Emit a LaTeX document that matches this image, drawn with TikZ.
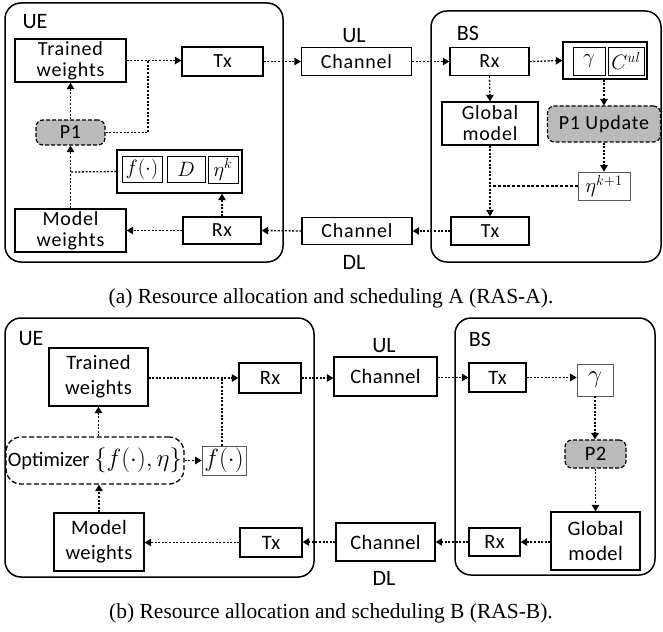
\documentclass[tikz,border=0pt]{standalone}
\usepackage{fontspec}
\setmainfont{Carlito}
\newfontfamily\capfont{Liberation Serif}
\usetikzlibrary{arrows.meta}
\newcommand\szA{\fontsize{20.74}{23}\selectfont}
\newcommand\szB{\fontsize{24.88}{28}\selectfont}
\newcommand\txA{\fontsize{20}{21}\selectfont\addfontfeatures{LetterSpace=4}}
\newcommand\txB{\fontsize{20.5}{25}\selectfont\addfontfeatures{LetterSpace=2}}
\tikzset{
  sz/.style 2 args={minimum width=#1pt, minimum height=#2pt},
  bx/.style={draw, line width=1.3pt, inner sep=0pt, align=center, font=\txA},
  bxb/.style={bx, font=\txB},
  mbox/.style={draw=black!65, line width=0.7pt, inner sep=0pt},
  ibox/.style={draw, line width=0.8pt, inner sep=0pt},
  cont/.style={draw, line width=1.5pt, rounded corners=16pt, inner sep=0pt},
  prob/.style={draw, fill=black!27, line width=1.2pt, dash pattern=on 4pt off 2pt, rounded corners=7pt, inner sep=0pt},
  lbl/.style={inner sep=0pt, font=\fontsize{22}{24}\selectfont},
  lk/.style={line width=1.3pt, dash pattern=on 2pt off 1.6pt},
  ar/.style={lk, -{Triangle[length=6.5pt,width=7.5pt]}},
  capt/.style={inner sep=0pt, font=\capfont\fontsize{21.5}{23}\selectfont},
}
\begin{document}
\begin{tikzpicture}[x=1pt,y=-1pt]
\useasboundingbox[fill=white] (0,0) rectangle (663,631);
% ================= Panel (a) =================
\node[cont, sz={278}{259}] (ueA) at (144,132.5) {};
\node[cont, sz={230}{251}] (bsA) at (546,136.5) {};
\node[lbl] (ueAl) at (35,22) {UE};
\node[lbl] (bsAl) at (468,33) {BS};
\node[lbl] (ulA) at (354,36) {UL};
\node[lbl] (dlA) at (354,262) {DL};
\node[bx, sz={111}{43}] (twA) at (70.5,60.5) {Trained\\weights};
\node[bx, sz={81}{29}] (txA) at (222.5,61.5) {Tx};
\node[bx, sz={110}{28}] (chulA) at (356.5,61.5) {Channel};
\node[bx, sz={79}{28}] (rxbA) at (489.5,61.5) {Rx};
\node[bx, sz={84}{37}] (gcA) at (605,60.5) {};
\node[ibox, sz={32}{28}] (gA) at (589,61) {\szA$\gamma$};
\node[ibox, sz={36}{28}] (cA) at (626,61) {\szA$C^{ul}$};
\node[bx, sz={96}{43}] (gmA) at (490,123.5) {Global\\model};
\node[prob, sz={113}{36}, font=\txA] (p1uA) at (604,124) {P1 Update};
\node[mbox, sz={52}{28}] (ekA) at (604,186) {\szA$\eta^{k+1}$};
\node[bx, sz={78}{28}] (txbA) at (490,231) {Tx};
\node[bx, sz={110}{27}] (chdlA) at (357,231) {Channel};
\node[bx, sz={78}{27}] (rxuA) at (222,230.5) {Rx};
\node[bx, sz={111}{43}] (mwA) at (70.5,230.5) {Model\\weights};
\node[bx, sz={125}{43}] (fdeA) at (179.5,171.5) {};
\node[ibox, sz={40}{26}] (fA) at (142,169) {\szA$f(\cdot)$};
\node[ibox, sz={38}{26}] (dA) at (186,169) {\szA$D$};
\node[ibox, sz={30}{27}] (ekkA) at (223,169.5) {\szA$\eta^{k}$};
\node[prob, sz={69}{25}, font=\txA] (p1A) at (70.5,132.5) {P1};
\coordinate (j1) at (148,61);
\coordinate (j2) at (70.5,172);
\coordinate (j3) at (490,186);
% connectors (a)
\draw[ar] (twA.east) -- (txA.west |- twA.east);
\draw[lk] (p1A.east) -| (j1);
\draw[ar] (p1A.north) -- (twA.south);
\draw[ar] (mwA.north) -- (p1A.south);
\draw[lk] (fdeA.west) -- (j2);
\draw[ar] (rxuA.west) -- (mwA.east);
\draw[ar] (rxuA.north) -- (rxuA.north |- fdeA.south);
\draw[ar] (txA.east) -- (chulA.west);
\draw[ar] (chulA.east) -- (rxbA.west);
\draw[ar] (rxbA.east) -- (gcA.west);
\draw[ar] (rxbA.south) -- (gmA.north);
\draw[ar] (gcA.south -| p1uA.north) -- (p1uA.north);
\draw[ar] (p1uA.south) -- (ekA.north);
\draw[ar] (gmA.south) -- (txbA.north);
\draw[line width=1.3pt, dash pattern=on 3pt off 1.8pt] (ekA.west) -- (j3);
\draw[ar] (txbA.west) -- (chdlA.east);
\draw[ar] (chdlA.west) -- (rxuA.east);
\node[capt] (capA) at (331,298) {(a) Resource allocation and scheduling A (RAS-A).};
% ================= Panel (b) =================
\node[cont, sz={309}{259}] (ueB) at (159.5,447.5) {};
\node[cont, sz={200}{257}] (bsB) at (555,446.5) {};
\node[lbl] (ueBl) at (31,339) {UE};
\node[lbl] (bsBl) at (480,339) {BS};
\node[lbl] (ulB) at (384,346) {UL};
\node[lbl] (dlB) at (384,578) {DL};
\node[bxb, sz={99}{58}] (twB) at (98.5,377) {Trained\\weights};
\node[bxb, sz={62}{30}] (rxuB) at (270,378) {Rx};
\node[draw, line width=1.3pt, dash pattern=on 5pt off 2.5pt, rounded corners=15pt, inner sep=0pt, sz={178}{47}] (optB) at (95,460.5) {};
\node[inner sep=0pt] (optT) at (95,460.5) {\fontsize{20.5}{22}\selectfont Optimizer \szB$\{f(\cdot),\eta\}$};
\node[mbox, sz={44}{29}] (fB) at (224,460.5) {\szB$f(\cdot)$};
\node[bxb, sz={90}{58}] (mwB) at (99,542) {Model\\weights};
\node[bxb, sz={62}{29}] (txuB) at (271,542.5) {Tx};
\node[bxb, sz={103}{39}] (chulB) at (385.5,376.5) {Channel};
\node[bxb, sz={57}{29}] (txbB) at (497.5,377.5) {Tx};
\node[mbox, sz={36}{32}] (gB) at (595,380) {\szB$\gamma$};
\node[prob, sz={61}{28}, font=\txB] (p2B) at (595.5,454) {P2};
\node[bxb, sz={89}{58}] (gmB) at (595.5,541) {Global\\model};
\node[bxb, sz={51}{28}] (rxbB) at (494.5,542) {Rx};
\node[bxb, sz={99}{38}] (chdlB) at (385.5,542) {Channel};
\coordinate (j4) at (222,377.5);
% connectors (b)
\draw[ar] (twB.east |- rxuB.west) -- (rxuB.west);
\draw[lk] (fB.north -| j4) -- (j4);
\draw[ar] (optB.east |- fB.west) -- (fB.west);
\draw[ar] (optB.north -| twB.south) -- (twB.south);
\draw[ar] (mwB.north) -- (mwB.north |- optB.south);
\draw[ar] (txuB.west) -- (txuB.west -| mwB.east);
\draw[ar] (chdlB.west) -- (txuB.east |- chdlB.west);
\draw[ar] (rxuB.east) -- (chulB.west |- rxuB.east);
\draw[ar] (chulB.east |- txbB.west) -- (txbB.west);
\draw[ar] (txbB.east) -- (txbB.east -| gB.west);
\draw[ar] (gB.south) -- (gB.south |- p2B.north);
\draw[ar] (p2B.south) -- (gmB.north);
\draw[ar] (gmB.west |- rxbB.east) -- (rxbB.east);
\draw[ar] (rxbB.west) -- (rxbB.west -| chdlB.east);
\node[capt] (capB) at (331,613) {(b) Resource allocation and scheduling B (RAS-B).};
\end{tikzpicture}
\end{document}
